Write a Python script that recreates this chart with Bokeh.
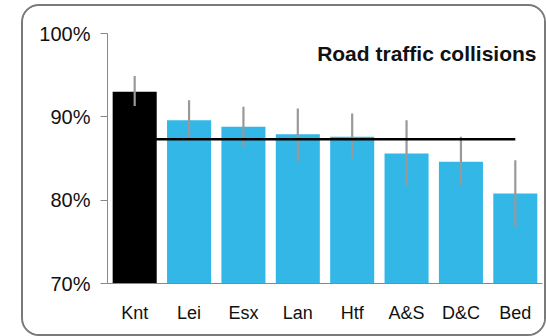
from bokeh.plotting import figure
from bokeh.models import (FactorRange, Range1d, ColumnDataSource, PrintfTickFormatter,
                          FixedTicker, Label)
from bokeh.embed import file_html
from bokeh.resources import INLINE

# ---- data ----
categories = ["Knt", "Lei", "Esx", "Lan", "Htf", "A&S", "D&C", "Bed"]
values = [93.0, 89.6, 88.8, 87.9, 87.6, 85.6, 84.6, 80.8]
lower = [91.3, 87.0, 86.4, 84.7, 85.0, 81.7, 81.8, 76.8]
upper = [94.9, 92.0, 91.2, 91.0, 90.4, 89.6, 87.6, 84.8]
mean_value = 87.3
y_ticks = [70, 80, 90, 100]
title_text = "Road traffic collisions"

BLUE = "#33B7E7"
colors = ["#000000"] + [BLUE] * (len(categories) - 1)

src = ColumnDataSource(dict(cat=categories, val=values, lo=lower, hi=upper, color=colors))

# rounded border drawn by the figure element itself (border box 21..546 x 4..336)
p = figure(
    width=521, height=328,
    x_range=FactorRange(*categories, range_padding=0),
    y_range=Range1d(70, 100),
    output_backend="svg", toolbar_location=None,
    min_border_left=84, min_border_right=6, min_border_top=27, min_border_bottom=55,
    styles={
        "box-sizing": "content-box",
        "margin-left": "21px",
        "margin-top": "4px",
        "border": "2px solid #7a7a7a",
        "border-radius": "18px",
        "overflow": "hidden",
        "background": "white",
    },
)
p.outline_line_color = None
p.grid.grid_line_color = None
p.background_fill_color = "white"
p.border_fill_color = "white"

p.vbar(x="cat", top="val", bottom=70, width=0.81, color="color", line_color=None, source=src)
p.segment(x0="cat", y0="lo", x1="cat", y1="hi", line_color="#999999", line_width=2.2, source=src)
p.segment(x0=[categories[0]], y0=[mean_value], x1=[categories[-1]], y1=[mean_value],
          line_color="black", line_width=2.5)

# axes
ya = p.yaxis[0]
ya.ticker = FixedTicker(ticks=y_ticks)
ya.formatter = PrintfTickFormatter(format="%d%%")
ya.axis_line_color = "#888888"
ya.major_tick_line_color = "#888888"
ya.major_tick_out = 7
ya.major_tick_in = 0
ya.minor_tick_line_color = None
ya.major_label_standoff = 10
ya.major_label_text_font = "Liberation Sans"
ya.major_label_text_font_size = "20px"
ya.major_label_text_color = "#111111"

xa = p.xaxis[0]
xa.axis_line_color = "#888888"
xa.major_tick_line_color = None
xa.major_tick_out = 0
xa.major_tick_in = 0
xa.minor_tick_line_color = None
xa.major_label_standoff = 19
xa.major_label_text_font = "Liberation Sans"
xa.major_label_text_font_size = "18px"
xa.major_label_text_color = "#111111"

# title inside plot
p.add_layout(Label(x=8, x_offset=-6, y=97.6, text=title_text, text_align="right",
                   text_baseline="alphabetic", text_font="Liberation Sans",
                   text_font_size="21px", text_font_style="bold", text_color="#111111"))

open("out.html", "w").write(file_html(p, INLINE))
